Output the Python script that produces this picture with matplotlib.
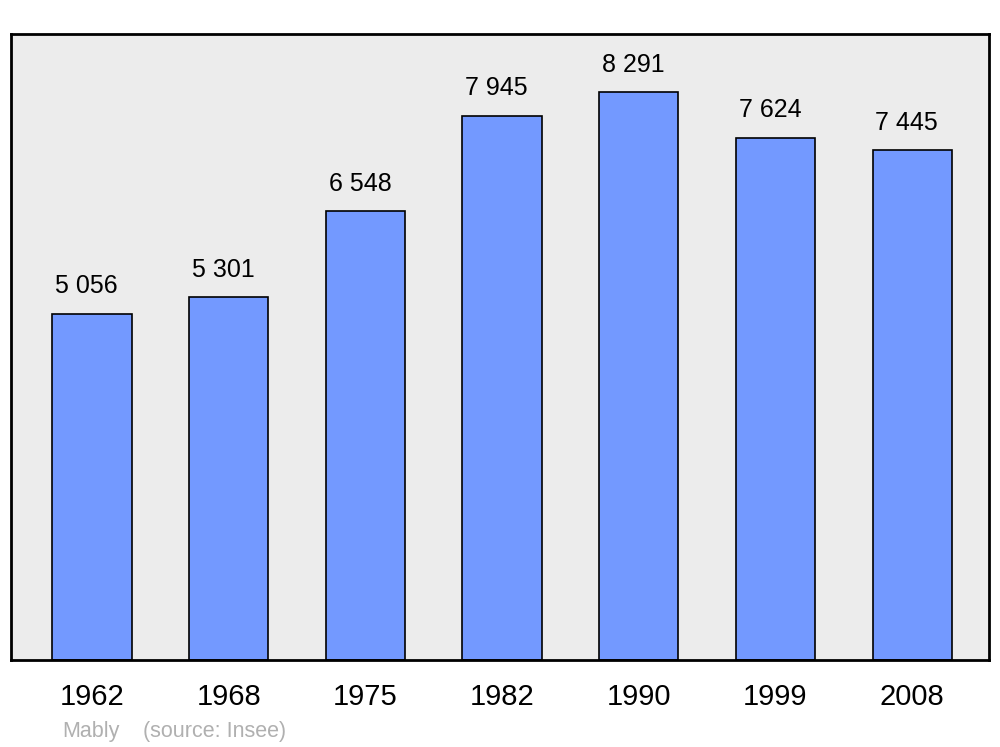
import matplotlib

matplotlib.use("Agg")
import matplotlib.pyplot as plt

# Population of Mably (source: Insee)
years = ["1962", "1968", "1975", "1982", "1990", "1999", "2008"]
population = [5056, 5301, 6548, 7945, 8291, 7624, 7445]
place = "Mably"
source = "(source: Insee)"

BAR_COLOR = "#7399ff"
BG_COLOR = "#ececec"

plt.rcParams["font.family"] = ["Liberation Sans", "DejaVu Sans"]


def fmt(n):
    # French-style thousands separator (space)
    return f"{n:,}".replace(",", " ")


fig = plt.figure(figsize=(10.0, 7.47), dpi=100)
ax = fig.add_axes([0.011, 0.1165, 0.978, 0.838])
ax.set_facecolor(BG_COLOR)

positions = range(len(years))
bars = ax.bar(list(positions), population, width=0.58, color=BAR_COLOR,
              edgecolor="black", linewidth=1.2, zorder=2)

for bar, value in zip(bars, population):
    ax.annotate(fmt(value),
                (bar.get_x() + bar.get_width() / 2, bar.get_height()),
                xytext=(-4, 11), textcoords="offset points",
                ha="center", va="bottom", fontsize=18)

ax.set_xlim(-0.593, 6.562)
ax.set_ylim(0, 9137)
ax.set_xticks(list(positions))
ax.set_xticklabels(years, fontsize=21)
ax.tick_params(axis="x", length=0, pad=16.5)
ax.set_yticks([])
for spine in ax.spines.values():
    spine.set_linewidth(2)
    spine.set_color("black")

fig.text(0.062, 1 - 731 / 747, place, color="#b0b0b0", fontsize=15.5, va="center")
fig.text(0.143, 1 - 731 / 747, source, color="#b0b0b0", fontsize=15.5, va="center")

fig.savefig("out.png", dpi=100, facecolor="white")
